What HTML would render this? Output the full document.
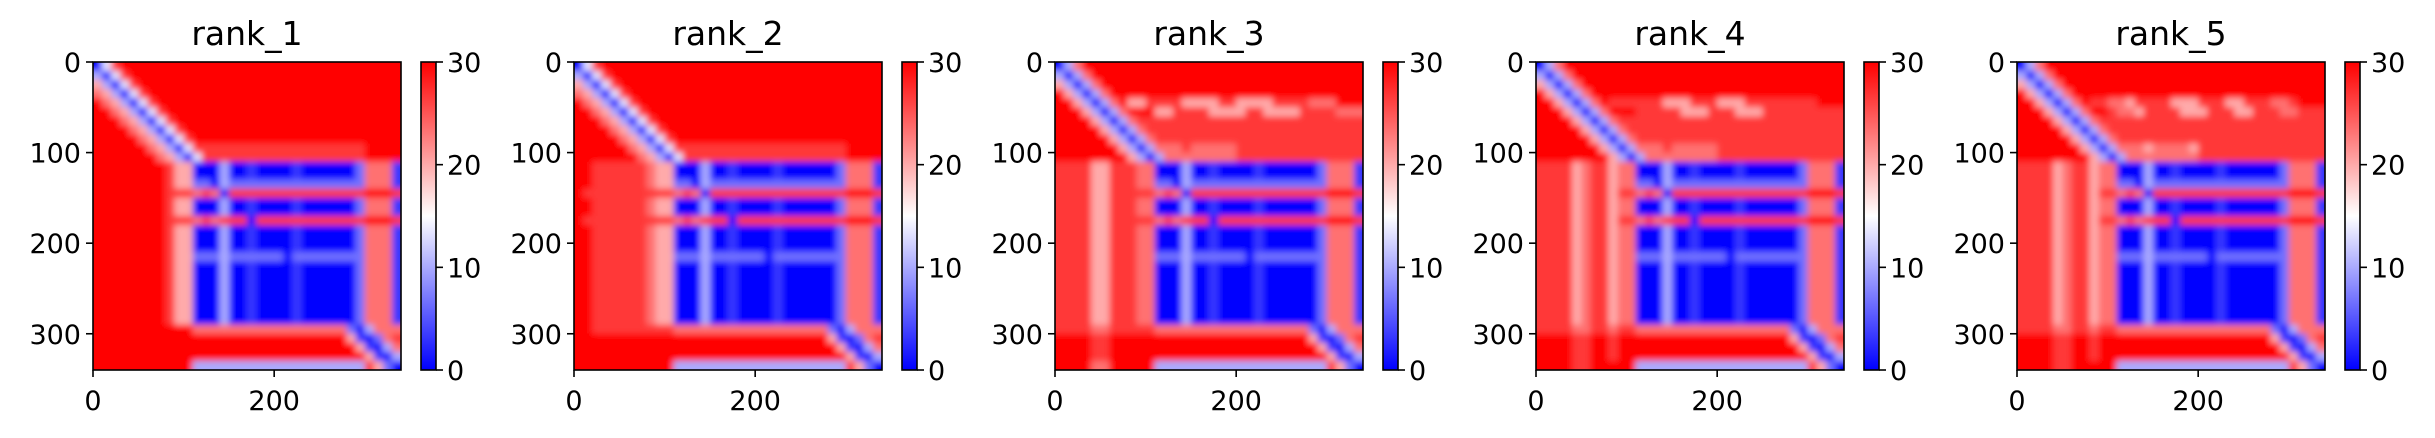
<!DOCTYPE html>
<html><head><meta charset="utf-8">
<style>
html,body{margin:0;padding:0;background:#fff;}
svg{display:block;font-family:"DejaVu Sans","Liberation Sans",sans-serif;}
</style></head>
<body>
<svg id="fig" width="2435" height="438" viewBox="0 0 2435 438" xmlns="http://www.w3.org/2000/svg">
<defs>
<linearGradient id="bwr" x1="0" y1="1" x2="0" y2="0">
<stop offset="0" stop-color="#0000ff"/><stop offset="0.5" stop-color="#ffffff"/><stop offset="1" stop-color="#ff0000"/>
</linearGradient>
<filter id="soft" x="-0.1" y="-0.1" width="1.2" height="1.2"><feGaussianBlur stdDeviation="3.2"/></filter>
</defs>
</svg>
<script>
// PAE values per 10-residue cell, encoded as digit d => PAE = d*30/9
const panelTitles = ["rank_1","rank_2","rank_3","rank_4","rank_5"];
const nResidues = 340;
const xTicks = [0,200];
const yTicks = [0,100,200,300];
const cbTicks = [0,10,20,30];
const paeMax = 30;

const rank1Rows = [
"048","3048","63048","763048","9763048","99763048","999763048","9999763048","99999763048",
"999999763048888888888888888888",
"9999999763048888888888888888889999",
"9999999986600030010000100000027771",
"9999999986600030010000100000027771",
"9999999986622032222222222222227771",
"9999999988878708888888888888889998",
"9999999986600030010000100000027771",
"9999999986600030010000100000027771",
"9999999988878788808888888888889998",
"9999999986600030010000100000027771",
"9999999986600030010000100000027771",
"9999999986600030010000100000027771",
"9999999986622232222220222222227771",
"9999999986600030010000100000027771",
"9999999986600030010000100000027771",
"9999999986600030010000100000027771",
"9999999986600030010000100000027771",
"9999999986600030010000100000027771",
"9999999986600030010000100000027771",
"9999999986600030010000100000027771",
"9999999999977777777777777777203777",
"9999999999999999999999999999610278",
"9999999999999999999999999999961037",
"9999999999999999999999999999996103",
"9999999999933333333333333333338620"];

const rank2Rows = [
"048","3048","63048","763048","9763048","99763048","999763048","9999763048","99999763048",
"999999763048888888888888888888",
"9999999763048888888888888888889999",
"9988888876600030010000100000027771",
"9988888876600030010000100000027771",
"9988888876622032222222222222227771",
"9888888888878708888888888888889998",
"9988888876600030010000100000027771",
"9988888876600030010000100000027771",
"9888888888878788808888888888889998",
"9988888876600030010000100000027771",
"9988888876600030010000100000027771",
"9988888876600030010000100000027771",
"9988888876622232222220222222227771",
"9988888876600030010000100000027771",
"9988888876600030010000100000027771",
"9988888876600030010000100000027771",
"9988888876600030010000100000027771",
"9988888876600030010000100000027771",
"9988888876600030010000100000027771",
"9988888876600030010000100000027771",
"9988888888877777777777777777203777",
"9999999999999999999999999999610278",
"9999999999999999999999999999961037",
"9999999999999999999999999999996103",
"9999999999933333333333333333338620"];

const rank3Rows = [
"037","3037","63037","963037",
"9963037966888866668866668888777",
"9996303799966888866668866668888777",
"9999630378888888888888888888888888",
"9999963037888888888888888888888888",
"9999996303788888888888888888888888",
"9999999630377787777788888888888888",
"9999999963037777777788888888888888",
"8888668887700030010000100000027771",
"8888668887700030010000100000027771",
"8888668887722032222222222222227771",
"8888668888878708888888888888889998",
"8888668887700030010000100000027771",
"8888668887700030010000100000027771",
"8888668888878788808888888888889998",
"8888668887700030010000100000027771",
"8888668887700030010000100000027771",
"8888668887700030010000100000027771",
"8888668887722232222220222222227771",
"8888668887700030010000100000027771",
"8888668887700030010000100000027771",
"8888668887700030010000100000027771",
"8888668887700030010000100000027771",
"8888668887700030010000100000027771",
"8888668887700030010000100000027771",
"8888668887700030010000100000027771",
"8888778888877777777777777777203777",
"9999889999999999999999999999610278",
"9999889999999999999999999999961037",
"9999889999999999999999999999996103",
"9999779999933333333333333333338620"];

const rank4Rows = [
"037","3037","63037","963037",
"9963037988888866688866688888888",
"9996303799988888666888666888888888",
"9999630378888888888888888888888888",
"9999963037888888888888888888888888",
"9999996303788888888888888888888888",
"9999999630377787777788888888888888",
"9999999963037777777788888888888888",
"8888678867700030010000100000027771",
"8888678867700030010000100000027771",
"8888678867722032222222222222227771",
"8888678868878708888888888888889998",
"8888678867700030010000100000027771",
"8888678867700030010000100000027771",
"8888678868878788808888888888889998",
"8888678867700030010000100000027771",
"8888678867700030010000100000027771",
"8888678867700030010000100000027771",
"8888678867722232222220222222227771",
"8888678867700030010000100000027771",
"8888678867700030010000100000027771",
"8888678867700030010000100000027771",
"8888678867700030010000100000027771",
"8888678867700030010000100000027771",
"8888678867700030010000100000027771",
"8888678867700030010000100000027771",
"8888778878877777777777777777203777",
"9999889989999999999999999999610278",
"9999889989999999999999999999961037",
"9999889989999999999999999999996103",
"9999889999933333333333333333338620"];

const rank5Rows = [
"037","3037","63037","963037",
"9963037988776888866688866888778",
"9996303799877688886668886688877888",
"9999630378888888888888888888888888",
"9999963037888888888888888888888888",
"9999996303788888888888888888888888",
"9999999630377767777688888888888888",
"9999999963037777777788888888888888",
"8888678867700030010000100000027771",
"8888678867700030010000100000027771",
"8888678867722032222222222222227771",
"8888678868878708888888888888889998",
"8888678867700030010000100000027771",
"8888678867700030010000100000027771",
"8888678868878788808888888888889998",
"8888678867700030010000100000027771",
"8888678867700030010000100000027771",
"8888678867700030010000100000027771",
"8888678867722232222220222222227771",
"8888678867700030010000100000027771",
"8888678867700030010000100000027771",
"8888678867700030010000100000027771",
"8888678867700030010000100000027771",
"8888678867700030010000100000027771",
"8888678867700030010000100000027771",
"8888678867700030010000100000027771",
"8888778878877777777777777777203777",
"9999889989999999999999999999610278",
"9999889989999999999999999999961037",
"9999889989999999999999999999996103",
"9999889999933333333333333333338620"];

const panels = [rank1Rows, rank2Rows, rank3Rows, rank4Rows, rank5Rows];

const NS = "http://www.w3.org/2000/svg";
const svg = document.getElementById("fig");
const plotTop = 62, plotSize = 308, panelStep = 481, firstLeft = 93;
const cbOffset = 328, cbWidth = 15;

function mk(tag, attrs, parent){ const e=document.createElementNS(NS,tag); for(const k in attrs) e.setAttribute(k,attrs[k]); parent.appendChild(e); return e; }
function bwr(v){
  let t = Math.max(0, Math.min(1, v/paeMax)), r,g,b;
  if(t<0.5){ r=g=Math.round(2*t*255); b=255; } else { r=255; g=b=Math.round((2-2*t)*255); }
  return `rgb(${r},${g},${b})`;
}

panels.forEach((rows, p) => {
  const L = firstLeft + p*panelStep;
  const sx = v => L + v*plotSize/nResidues;
  const sy = v => plotTop + v*plotSize/nResidues;
  const nCells = 34, cell = nResidues/nCells;
  const g = mk("g", {}, svg);
  
  

  const clipId = "clip"+p;
  const cp = mk("clipPath", {id:clipId}, svg.querySelector("defs"));
  mk("rect", {x:L, y:plotTop, width:plotSize, height:plotSize}, cp);

  const hc = mk("g", {"clip-path":`url(#${clipId})`}, g);
  
  
  const cellsG = mk("g", {filter:"url(#soft)"}, hc);
  for(let r=0;r<nCells;r++){
    let s = (rows[r]||"").padEnd(nCells,"9");
    for(let c=0;c<nCells;c++){
      const v = parseInt(s[c],10)*paeMax/9;
      let x0 = sx(c*cell), x1 = sx((c+1)*cell), y0 = sy(r*cell), y1 = sy((r+1)*cell);
      if(c===0) x0-=14; if(c===nCells-1) x1+=14; if(r===0) y0-=14; if(r===nCells-1) y1+=14;
      const rc = mk("rect", {x:x0, y:y0, width:x1-x0+0.6, height:y1-y0+0.6, fill:bwr(v)}, cellsG);
      
      
    }
  }
  const fr = mk("rect", {x:L, y:plotTop, width:plotSize, height:plotSize, fill:"none", stroke:"#000", "stroke-width":1.6}, g);
  
  
  const t = mk("text", {x:L+plotSize/2, y:45, "font-size":33, "text-anchor":"middle", fill:"#000"}, g);
  t.textContent = panelTitles[p];
  
  
  yTicks.forEach(v => {
    const y = sy(v);
    mk("line", {x1:L-7, x2:L, y1:y, y2:y, stroke:"#000", "stroke-width":1.6}, g);
    const tl = mk("text", {x:L-12, y:y+10, "font-size":27, "text-anchor":"end", fill:"#000"}, g);
    tl.textContent = v;
    
    
  });
  xTicks.forEach(v => {
    const x = sx(v);
    mk("line", {x1:x, x2:x, y1:plotTop+plotSize, y2:plotTop+plotSize+7, stroke:"#000", "stroke-width":1.6}, g);
    const tl = mk("text", {x:x, y:410, "font-size":27, "text-anchor":"middle", fill:"#000"}, g);
    tl.textContent = v;
    
    
  });
  const cx = L + cbOffset;
  const cb = mk("rect", {x:cx, y:plotTop, width:cbWidth, height:plotSize, fill:"url(#bwr)", stroke:"#000", "stroke-width":1.6}, g);
  
  
  cbTicks.forEach(v => {
    const y = plotTop + plotSize - v/paeMax*plotSize;
    mk("line", {x1:cx+cbWidth, x2:cx+cbWidth+7, y1:y, y2:y, stroke:"#000", "stroke-width":1.6}, g);
    const tl = mk("text", {x:cx+cbWidth+11, y:y+10, "font-size":27, fill:"#000"}, g);
    tl.textContent = v;
    
    
  });
});
</script>
</body></html>
